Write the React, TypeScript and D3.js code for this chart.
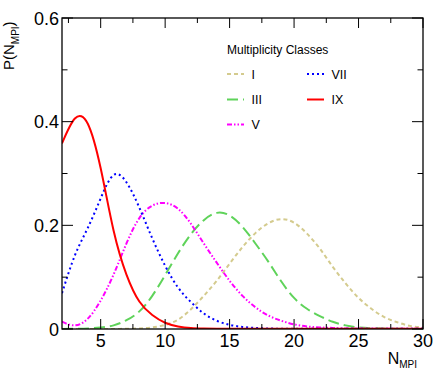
import React from "react";
import * as d3 from "d3";

const xs = [2,3,4,5,6,7,8,9,10,11,12,13,14,15,16,17,18,19,20,21,22,23,24,25,26,27,28,29,30];
const classI = [0,0,0,0,0,0.0005,0.001,0.003,0.008,0.018,0.038,0.064,0.093,0.126,0.158,0.185,0.204,0.212,0.205,0.184,0.155,0.12,0.088,0.06,0.039,0.023,0.013,0.006,0.003];
const classIII = [0,0.0005,0.001,0.003,0.007,0.017,0.034,0.064,0.104,0.146,0.183,0.21,0.224,0.219,0.197,0.165,0.13,0.092,0.06,0.039,0.025,0.014,0.007,0.003,0.0015,0.0008,0.0004,0.0002,0.0001];
const classV = [0.014,0.007,0.02,0.055,0.105,0.165,0.214,0.238,0.243,0.232,0.203,0.165,0.128,0.093,0.064,0.042,0.026,0.016,0.009,0.005,0.003,0.002,0.001,0.001,0.0005,0.0005,0.0005,0.0005,0.0005];
const classVII = [0.069,0.142,0.195,0.252,0.297,0.283,0.234,0.175,0.122,0.08,0.052,0.03,0.016,0.008,0.004,0.002,0.001,0.0005,0.0005,0.0005,0.0005,0.0005,0.0005,0.0005,0.0005,0.0005,0.0005,0.0005,0.0005];
const classIX = [0.358,0.406,0.396,0.31,0.19,0.105,0.053,0.027,0.012,0.005,0.002,0.001,0.0005,0.0003,0.0003,0.0003,0.0003,0.0003,0.0003,0.0003,0.0003,0.0003,0.0003,0.0003,0.0003,0.0003,0.0003,0.0003,0.0003];

const xTicks = [5, 10, 15, 20, 25, 30];
const xMinor = [2.5, 7.5, 12.5, 17.5, 22.5, 27.5];
const yTicks = [0, 0.2, 0.4, 0.6];
const yTickLabels = ["0", "0.2", "0.4", "0.6"];
const yMinor = [0.1, 0.3, 0.5];

const series = [
  { name: "I", values: classI, color: "#d4cb8e", dash: "4,3", col: 0, row: 0 },
  { name: "III", values: classIII, color: "#5fd35a", dash: "11,5", col: 0, row: 1 },
  { name: "V", values: classV, color: "#ff00ff", dash: "5,2,1.5,2,1.5,2", col: 0, row: 2 },
  { name: "VII", values: classVII, color: "#0000ff", dash: "2,3", col: 1, row: 0 },
  { name: "IX", values: classIX, color: "#ff0000", dash: "", col: 1, row: 1 },
];

const FONT = "'Liberation Sans', Arial, Helvetica, sans-serif";

export default function App() {
  const L = 62, R = 423, T = 18, B = 329;
  const x = d3.scaleLinear().domain([2, 30]).range([L, R]);
  const y = d3.scaleLinear().domain([0, 0.6]).range([B, T]);
  const line = (vals: number[]) =>
    d3.line<number>().x((_, i) => x(xs[i])).y((d) => y(d)).curve(d3.curveNatural)(vals) || "";

  const legX = [227, 307];
  const legY = [74, 99.5, 124.5];

  return (
    <svg width={436} height={382} style={{ position: "absolute", left: 0, top: 0 }} fontFamily={FONT}>
      <rect x={0} y={0} width={436} height={382} fill="#fff" />
      <defs>
        <clipPath id="frame">
          <rect x={L} y={T} width={R - L} height={B - T} />
        </clipPath>
      </defs>
      <g clipPath="url(#frame)">
        {series.map((s) => (
          <path key={s.name} d={line(s.values)} fill="none" stroke={s.color} strokeWidth={2} strokeDasharray={s.dash || undefined} />
        ))}
      </g>
      <rect x={L} y={T} width={R - L} height={B - T} fill="none" stroke="#000" strokeWidth={1.3} />
      {xTicks.map((t) => (
        <g key={"xt" + t}>
          <line x1={x(t)} x2={x(t)} y1={B} y2={B - 10} stroke="#000" strokeWidth={1} />
          <line x1={x(t)} x2={x(t)} y1={T} y2={T + 10} stroke="#000" strokeWidth={1} />
          <text x={x(t)} y={346.5} fontSize={18} textAnchor="middle" fill="#000">{t}</text>
        </g>
      ))}
      {xMinor.map((t) => (
        <g key={"xm" + t}>
          <line x1={x(t)} x2={x(t)} y1={B} y2={B - 5} stroke="#000" strokeWidth={1} />
          <line x1={x(t)} x2={x(t)} y1={T} y2={T + 5} stroke="#000" strokeWidth={1} />
        </g>
      ))}
      {yTicks.map((t, i) => (
        <g key={"yt" + t}>
          <line x1={L} x2={L + 11} y1={y(t)} y2={y(t)} stroke="#000" strokeWidth={1} />
          <line x1={R} x2={R - 11} y1={y(t)} y2={y(t)} stroke="#000" strokeWidth={1} />
          <text x={59} y={y(t) + 6.5} fontSize={18} textAnchor="end" fill="#000">{yTickLabels[i]}</text>
        </g>
      ))}
      {yMinor.map((t) => (
        <g key={"ym" + t}>
          <line x1={L} x2={L + 5.5} y1={y(t)} y2={y(t)} stroke="#000" strokeWidth={1} />
          <line x1={R} x2={R - 5.5} y1={y(t)} y2={y(t)} stroke="#000" strokeWidth={1} />
        </g>
      ))}
      <text x={417} y={363.5} textAnchor="end" fill="#000">
        <tspan fontSize={16}>N</tspan>
        <tspan fontSize={10} dy={4.5}>MPI</tspan>
      </text>
      <text transform="translate(13.5,70) rotate(-90)" fill="#000">
        <tspan fontSize={15}>P(N</tspan>
        <tspan fontSize={10} dy={5}>MPI</tspan>
        <tspan fontSize={15} dy={-5}>)</tspan>
      </text>
      <text x={227} y={54} fontSize={12} fill="#000">Multiplicity Classes</text>
      {series.map((s) => (
        <g key={"lg" + s.name}>
          <line x1={legX[s.col]} x2={legX[s.col] + 17} y1={legY[s.row]} y2={legY[s.row]} stroke={s.color} strokeWidth={2} strokeDasharray={s.dash || undefined} />
          <text x={legX[s.col] + 24.5} y={legY[s.row] + 4.5} fontSize={12.5} fill="#000">{s.name}</text>
        </g>
      ))}
    </svg>
  );
}
